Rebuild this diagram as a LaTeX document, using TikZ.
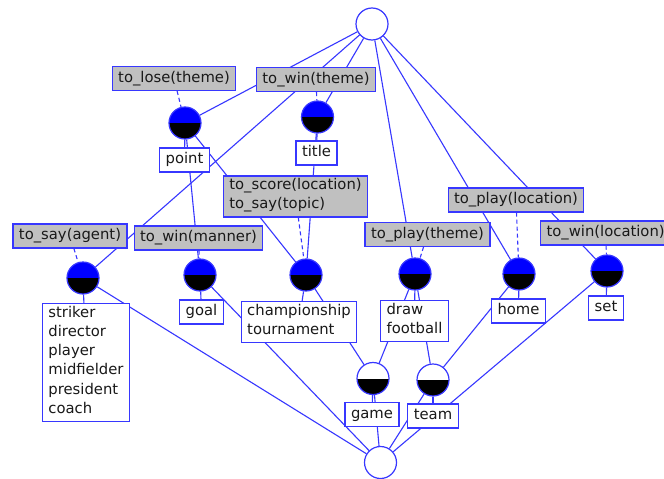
\documentclass[tikz,border=0pt]{standalone}
\usepackage{fontspec}
\setmainfont{DejaVu Sans}

\definecolor{lattblue}{RGB}{55,55,255}
\definecolor{attrgray}{RGB}{192,192,192}
\definecolor{labtext}{RGB}{25,25,25}

\begin{document}
\begin{tikzpicture}[x=1pt,y=-1pt]

\tikzset{concept/.style={circle,draw=lattblue,line width=1.2pt,fill=white,minimum size=32pt,inner sep=0pt}}
\tikzset{full/.style={concept,path picture={
    \fill[blue] (path picture bounding box.west) rectangle (path picture bounding box.north east);
    \fill[black] (path picture bounding box.west) rectangle (path picture bounding box.south east);}}}
\tikzset{objonly/.style={concept,path picture={
    \fill[black] (path picture bounding box.west) rectangle (path picture bounding box.south east);}}}
\tikzset{attr/.style={draw=lattblue,line width=1.1pt,fill=attrgray,text=labtext,align=left,
    inner xsep=6pt,inner ysep=2.4pt,font=\fontsize{14.8}{19.2}\selectfont,
    execute at begin node=\strut,execute at end node=\strut}}
\tikzset{obj/.style={attr,fill=white}}
\tikzset{edge/.style={draw=lattblue,line width=1.1pt}}
\tikzset{toAttr/.style={edge,dash pattern=on 4pt off 3pt}}
\tikzset{toObj/.style={edge}}

\fill[white] (0,0) rectangle (664,479);
\useasboundingbox (0,0) rectangle (664,479);

% concepts
\node[concept] (top) at (372,24) {};
\node[full] (cPoint) at (185,123) {};
\node[full] (cTitle) at (317.5,117) {};
\node[full] (cStriker) at (83,278) {};
\node[full] (cGoal) at (200,275) {};
\node[full] (cChamp) at (306,275) {};
\node[full] (cDraw) at (415,274) {};
\node[full] (cHome) at (519,274) {};
\node[full] (cSet) at (607,271) {};
\node[objonly] (cGame) at (373,378.5) {};
\node[objonly] (cTeam) at (433,380) {};
\node[concept] (bottom) at (380.5,462.5) {};

% lattice edges
\draw[edge] (top) -- (cPoint);
\draw[edge] (top) -- (cTitle);
\draw[edge] (top) -- (cStriker);
\draw[edge] (top) -- (cDraw);
\draw[edge] (top) -- (cHome);
\draw[edge] (top) -- (cSet);
\draw[edge] (cPoint) -- (cGoal);
\draw[edge] (cPoint) -- (cChamp);
\draw[edge] (cTitle) -- (cChamp);
\draw[edge] (cStriker) -- (bottom);
\draw[edge] (cGoal) -- (bottom);
\draw[edge] (cChamp) -- (cGame);
\draw[edge] (cDraw) -- (cGame);
\draw[edge] (cDraw) -- (cTeam);
\draw[edge] (cHome) -- (cTeam);
\draw[edge] (cSet) -- (bottom);
\draw[edge] (cGame) -- (bottom);
\draw[edge] (cTeam) -- (bottom);

% attribute labels
\node[attr] (aLose) at (174,78.5) {to\_lose(theme)};
\node[attr] (aWinTheme) at (316,79.5) {to\_win(theme)};
\node[attr] (aScore) at (295.5,196.5) {to\_score(location)\\to\_say(topic)};
\node[attr] (aSayAgent) at (70,236) {to\_say(agent)};
\node[attr] (aWinManner) at (198.5,238) {to\_win(manner)};
\node[attr] (aPlayTheme) at (427.5,234.5) {to\_play(theme)};
\node[attr] (aPlayLoc) at (516,200) {to\_play(location)};
\node[attr,anchor=west] (aWinLoc) at (540,233) {to\_win(location)};
\draw[toAttr] (aLose) -- (cPoint);
\draw[toAttr] (aWinTheme) -- (cTitle);
\draw[toAttr] (aScore) -- (cChamp);
\draw[toAttr] (aSayAgent) -- (cStriker);
\draw[toAttr] (aWinManner) -- (cGoal);
\draw[toAttr] (aPlayTheme) -- (cDraw);
\draw[toAttr] (aPlayLoc) -- (cHome);
\draw[toAttr] (aWinLoc) -- (cSet);

% object labels
\node[obj] (oPoint) at (184.5,160) {point};
\node[obj] (oTitle) at (316.5,153) {title};
\node[obj] (oStriker) at (86,362.5) {striker\\director\\player\\midfielder\\president\\coach};
\node[obj] (oGoal) at (201.5,312) {goal};
\node[obj] (oChamp) at (299,322) {championship\\tournament};
\node[obj] (oDraw) at (414.5,321) {draw\\football};
\node[obj] (oHome) at (518.5,311) {home};
\node[obj] (oSet) at (606,308) {set};
\node[obj] (oGame) at (372,414.5) {game};
\node[obj] (oTeam) at (433,416) {team};
\draw[toObj] (cPoint) -- (oPoint);
\draw[toObj] (cTitle) -- (oTitle);
\draw[toObj] (cStriker) -- (oStriker);
\draw[toObj] (cGoal) -- (oGoal);
\draw[toObj] (cChamp) -- (oChamp);
\draw[toObj] (cDraw) -- (oDraw);
\draw[toObj] (cHome) -- (oHome);
\draw[toObj] (cSet) -- (oSet);
\draw[toObj] (cGame) -- (oGame);
\draw[toObj] (cTeam) -- (oTeam);

\end{tikzpicture}
\end{document}
